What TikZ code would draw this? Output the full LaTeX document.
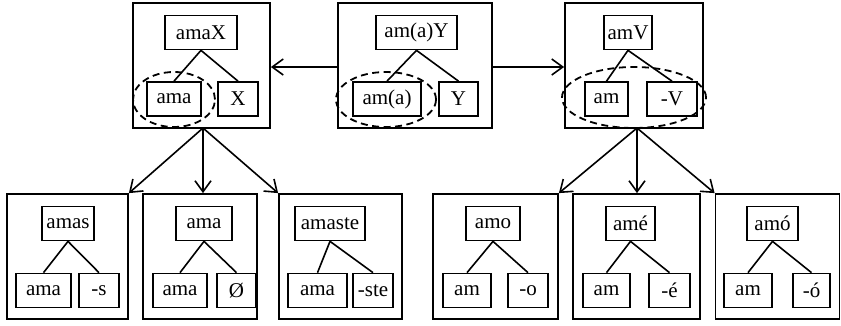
\documentclass[tikz,border=0pt]{standalone}
\usepackage{fontspec}
\setmainfont{Liberation Serif}
\usetikzlibrary{arrows.meta,shapes.geometric}
\begin{document}
\begin{tikzpicture}[x=1pt,y=-1pt,
  wbox/.style={draw,line width=1.7pt,minimum height=34pt,inner sep=0pt,font=\fontsize{21}{23}\selectfont},
  frame/.style={draw,line width=1.8pt,inner sep=0pt},
  oval/.style={draw,ellipse,dash pattern=on 7pt off 4.5pt,line width=1.8pt,inner sep=0pt},
  branch/.style={line width=1.6pt},
  arr/.style={line width=1.6pt,-{Straight Barb[length=11pt,width=16pt,line width=1.6pt]}}]
\useasboundingbox (0,0) rectangle (841,325);
% top frames
\node[frame,minimum width=137pt,minimum height=125pt] (F1) at (201.5,65.5) {};
\node[frame,minimum width=154pt,minimum height=125pt] (F2) at (415,65.5) {};
\node[frame,minimum width=138pt,minimum height=125pt] (F3) at (634,65.5) {};
% bottom frames
\node[frame,minimum width=121pt,minimum height=125pt] (B1) at (67.5,256.5) {};
\node[frame,minimum width=114pt,minimum height=125pt] (B2) at (200,256.5) {};
\node[frame,minimum width=123pt,minimum height=125pt] (B3) at (340.5,256.5) {};
\node[frame,minimum width=125pt,minimum height=125pt] (B4) at (495.5,256.5) {};
\node[frame,minimum width=127pt,minimum height=125pt] (B5) at (636.5,256.5) {};
\node[frame,minimum width=124pt,minimum height=125pt] (B6) at (777.5,256.5) {};
% top trees
\node[wbox,minimum width=72pt] (t1) at (201,32.5) {amaX};
\node[wbox,minimum width=54pt] (t1a) at (174,99) {ama};
\node[wbox,minimum width=40pt] (t1b) at (238,99) {X};
\node[wbox,minimum width=81pt] (t2) at (416.5,32.5) {am(a)Y};
\node[wbox,minimum width=68pt] (t2a) at (387,99) {am(a)};
\node[wbox,minimum width=39pt] (t2b) at (458.5,99) {Y};
\node[wbox,minimum width=48pt] (t3) at (628,32.5) {amV};
\node[wbox,minimum width=43pt] (t3a) at (606.5,99) {am};
\node[wbox,minimum width=50pt] (t3b) at (672,99) {-V};
\foreach \p/\c in {t1/t1a,t1/t1b,t2/t2a,t2/t2b,t3/t3a,t3/t3b}
  \draw[branch] (\p.south) -- (\c.north);
% ellipses
\node[oval,minimum width=82pt,minimum height=55pt] (E1) at (174,99.5) {};
\node[oval,minimum width=100pt,minimum height=55pt] (E2) at (386,99.5) {};
\node[oval,minimum width=144pt,minimum height=61pt] (E3) at (634,97.5) {};
% bottom trees
\node[wbox,minimum width=52pt] (b1) at (68,223.5) {amas};
\node[wbox,minimum width=55pt] (b1a) at (43.5,290.5) {ama};
\node[wbox,minimum width=40pt] (b1b) at (99,290.5) {-s};
\node[wbox,minimum width=56pt] (b2) at (204,223.5) {ama};
\node[wbox,minimum width=54pt] (b2a) at (180,290.5) {ama};
\node[wbox,minimum width=39pt] (b2b) at (236.5,290.5) {Ø};
\node[wbox,minimum width=70pt] (b3) at (330,223.5) {amaste};
\node[wbox,minimum width=59pt] (b3a) at (317.5,290.5) {ama};
\node[wbox,minimum width=40pt] (b3b) at (373,290.5) {-ste};
\node[wbox,minimum width=54pt] (b4) at (493,223.5) {amo};
\node[wbox,minimum width=48pt] (b4a) at (467,290.5) {am};
\node[wbox,minimum width=40pt] (b4b) at (528,290.5) {-o};
\node[wbox,minimum width=49pt] (b5) at (630.5,223.5) {amé};
\node[wbox,minimum width=47pt] (b5a) at (606.5,290.5) {am};
\node[wbox,minimum width=41pt] (b5b) at (669.5,290.5) {-é};
\node[wbox,minimum width=51pt] (b6) at (772.5,223.5) {amó};
\node[wbox,minimum width=48pt] (b6a) at (748,290.5) {am};
\node[wbox,minimum width=37pt] (b6b) at (811.5,290.5) {-ó};
\foreach \p/\c in {b1/b1a,b1/b1b,b2/b2a,b2/b2b,b3/b3a,b3/b3b,b4/b4a,b4/b4b,b5/b5a,b5/b5b,b6/b6a,b6/b6b}
  \draw[branch] (\p.south) -- (\c.north);
% arrows between top frames
\draw[arr] (F2.west |- 0,67) -- (F1.east |- 0,67);
\draw[arr] (F2.east |- 0,67) -- (F3.west |- 0,67);
% arrows down
\coordinate (s1) at (203,128);
\coordinate (s2) at (637,128);
\draw[arr] (s1) -- (B1.north east);
\draw[arr] (s1) -- (B2.north -| s1);
\draw[arr] (s1) -- (B3.north west);
\draw[arr] (s2) -- (B4.north east);
\draw[arr] (s2) -- (B5.north -| s2);
\draw[arr] (s2) -- (B6.north west);
\end{tikzpicture}
\end{document}
